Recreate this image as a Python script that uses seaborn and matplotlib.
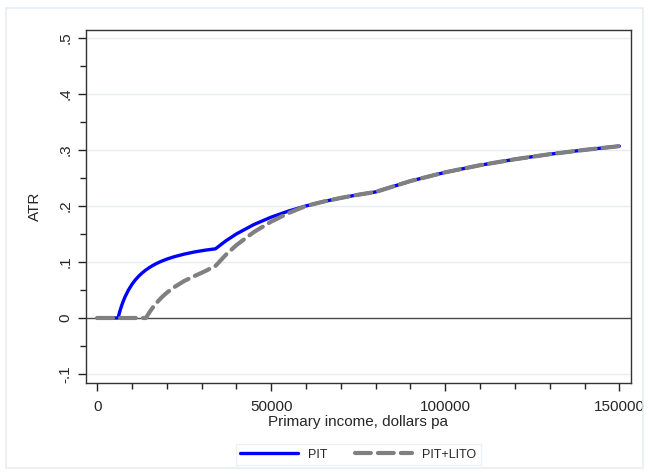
"""
Average tax rate chart: PIT vs PIT+LITO (seaborn + matplotlib)
"""
import numpy as np
import pandas as pd
import matplotlib
matplotlib.use("Agg")
import matplotlib.pyplot as plt
from matplotlib.patches import Rectangle
from matplotlib.ticker import MultipleLocator
import seaborn as sns

# Values
income = [0, 6000, 6500, 7000, 7500, 8000, 9000, 10000, 11000, 12000, 13000,
          14000, 15000, 16000, 17000, 18000, 19000, 20000, 22000, 25000, 28000,
          31000, 34000, 37000, 40000, 45000, 50000, 55000, 60000, 65000, 70000,
          75000, 80000, 90000, 100000, 110000, 120000, 130000, 140000, 150000]
atr_pit = [0, 0, 0.0115, 0.0214, 0.030, 0.0375, 0.050, 0.060, 0.0682, 0.075, 0.0808,
           0.0857, 0.090, 0.0938, 0.0971, 0.100, 0.1026, 0.105, 0.1091, 0.114, 0.1179,
           0.121, 0.1235, 0.1378, 0.150, 0.1667, 0.180, 0.1909, 0.200, 0.2077, 0.2143,
           0.220, 0.225, 0.2444, 0.260, 0.2727, 0.2833, 0.2923, 0.300, 0.3067]
atr_lito = [0, 0, 0, 0, 0, 0, 0, 0, 0, 0, 0,
            0, 0.010, 0.0188, 0.0265, 0.0333, 0.0395, 0.045, 0.0545, 0.066, 0.075,
            0.0835, 0.0929, 0.113, 0.130, 0.1533, 0.172, 0.1873, 0.200, 0.2077, 0.2143,
            0.220, 0.225, 0.2444, 0.260, 0.2727, 0.2833, 0.2923, 0.300, 0.3067]

y_ticks = [-0.1, 0, 0.1, 0.2, 0.3, 0.4, 0.5]
y_labels = ["-.1", "0", ".1", ".2", ".3", ".4", ".5"]
x_ticks = [0, 50000, 100000, 150000]
x_labels = ["0", "50000", "100000", "150000"]

df = pd.DataFrame({"income": income, "PIT": atr_pit, "PIT+LITO": atr_lito})

sns.set_style("ticks")
plt.rcParams['font.family'] = ['Liberation Sans', 'DejaVu Sans']

fig = plt.figure(figsize=(6.49, 4.73), dpi=100)
fig.patch.set_facecolor("white")
fig.patches.append(Rectangle((6 / 649, 5 / 473), 637 / 649, 460 / 473,
                             transform=fig.transFigure, fill=False,
                             edgecolor="#e6eef2", linewidth=1.2))
ax = fig.add_axes([0.1325, 0.1903, 0.8395, 0.7463])

# Grid and zero line
for yt in y_ticks:
    if yt != 0:
        ax.axhline(yt, color="#e4eef0", linewidth=1.0, zorder=0)
ax.axhline(0, color="#4a4a4a", linewidth=1.0, zorder=1)

sns.lineplot(data=df, x="income", y="PIT", ax=ax, color="#0000ff",
             linewidth=2.4, label="PIT", zorder=2)
sns.lineplot(data=df, x="income", y="PIT+LITO", ax=ax, color="#808080",
             linewidth=3.0, label="PIT+LITO", zorder=3)
ax.lines[-1].set_dashes((3.8, 1.7))
ax.lines[-1].set_dash_capstyle("round")

ax.set_xlim(-3200, 153300)
ax.set_ylim(-0.116, 0.514)

ax.set_yticks(y_ticks)
ax.set_yticklabels(y_labels, rotation=90, va="center")
ax.set_xticks(x_ticks)
ax.set_xticklabels(x_labels)
ax.yaxis.set_minor_locator(MultipleLocator(0.05))
ax.xaxis.set_minor_locator(MultipleLocator(10000))
ax.tick_params(which="major", length=6, width=1, labelsize=11, color="#222222")
ax.tick_params(axis="x", which="major", pad=6)
ax.tick_params(which="minor", length=4, width=1, color="#222222")

for sp in ax.spines.values():
    sp.set_visible(True)
    sp.set_color("#333333")
    sp.set_linewidth(1.0)

ax.set_xlabel("Primary income, dollars pa", fontsize=11, labelpad=1)
ax.set_ylabel("ATR", fontsize=11, labelpad=12)

leg = ax.legend(loc="upper center", bbox_to_anchor=(0.5, -0.156), ncol=2,
                frameon=True, fancybox=False, fontsize=9, handlelength=4.6,
                columnspacing=2.2, borderpad=0.35)
leg.get_frame().set_edgecolor("#e6eef2")
leg.get_frame().set_linewidth(1.0)

plt.savefig("out.png", dpi=100)
plt.close()
